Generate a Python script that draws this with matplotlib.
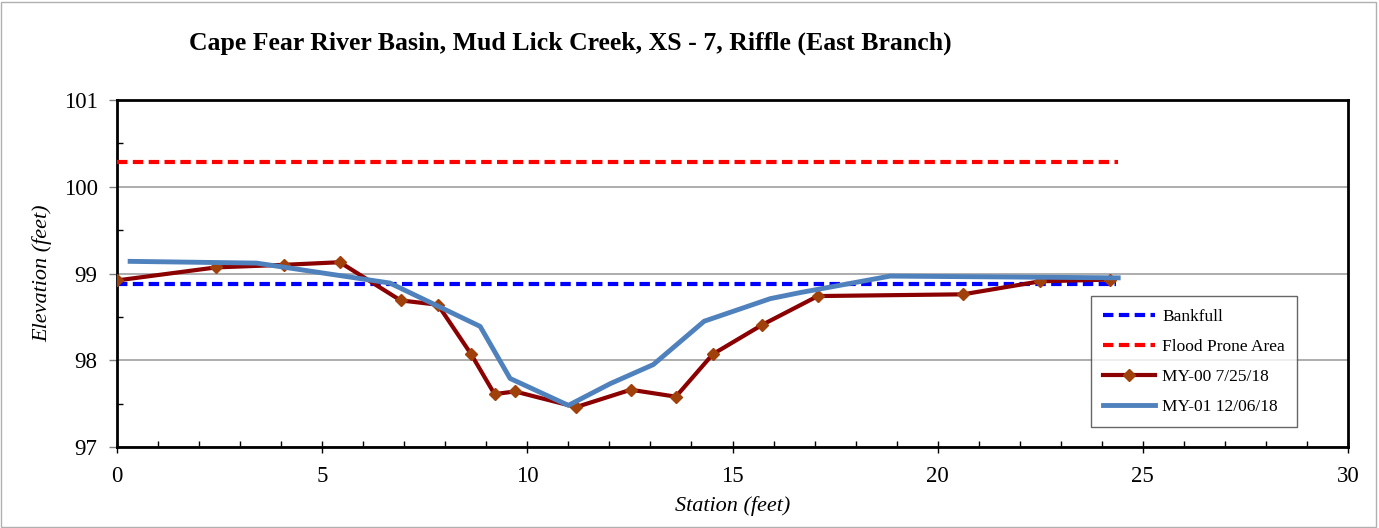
import matplotlib
matplotlib.use("Agg")
import matplotlib.pyplot as plt
from matplotlib.ticker import MultipleLocator

plt.rcParams['font.family'] = ['Liberation Serif', 'DejaVu Serif']

title = "Cape Fear River Basin, Mud Lick Creek, XS - 7, Riffle (East Branch)"

bankfull_x = [0.0, 24.35]
bankfull_y = [98.88, 98.88]
flood_x = [0.0, 24.4]
flood_y = [100.28, 100.28]

my00_x = [0.0, 2.41, 4.07, 5.43, 6.91, 7.82, 8.63, 9.20, 9.70, 11.19, 12.52, 13.62, 14.52, 15.73, 17.08, 20.62, 22.50, 24.20]
my00_y = [98.92, 99.07, 99.10, 99.13, 98.69, 98.64, 98.07, 97.61, 97.64, 97.46, 97.66, 97.58, 98.07, 98.41, 98.74, 98.76, 98.91, 98.93]

my01_x = [0.32, 3.40, 6.65, 8.85, 9.58, 11.00, 12.02, 13.07, 14.31, 15.92, 16.65, 18.84, 24.40]
my01_y = [99.14, 99.12, 98.89, 98.39, 97.79, 97.48, 97.73, 97.95, 98.45, 98.71, 98.78, 98.97, 98.95]

fig = plt.figure(figsize=(13.79, 5.28), dpi=100)
ax = fig.add_axes([117/1379, 1 - 447/528, (1348-117)/1379, (447-100)/528])

ax.plot(bankfull_x, bankfull_y, color='#0000FF', lw=3, ls=(0, (2.5, 1.3)), label='Bankfull', zorder=3)
ax.plot(flood_x, flood_y, color='#FF0000', lw=3, ls=(0, (2.5, 1.3)), label='Flood Prone Area', zorder=3)
ax.plot(my00_x, my00_y, color='#8B0000', lw=3, marker='D', ms=6, mfc='#A0400A', mec='#A0400A',
        label='MY-00 7/25/18', zorder=4)
ax.plot(my01_x, my01_y, color='#4F81BD', lw=3.5, label='MY-01 12/06/18', zorder=5)

ax.set_xlim(0, 30)
ax.set_ylim(97, 101)
ax.xaxis.set_major_locator(MultipleLocator(5))
ax.xaxis.set_minor_locator(MultipleLocator(1))
ax.yaxis.set_major_locator(MultipleLocator(1))
ax.yaxis.set_minor_locator(MultipleLocator(0.5))
ax.grid(axis='y', which='major', color='#A0A0A0', lw=1.2)
ax.set_axisbelow(True)
for s in ax.spines.values():
    s.set_linewidth(2)
    s.set_color('black')
ax.tick_params(axis='x', which='major', direction='inout', length=8, width=1, labelsize=16.5, pad=10)
ax.tick_params(axis='x', which='minor', direction='in', length=4, width=1)
ax.tick_params(axis='y', which='major', direction='out', length=6, width=1, labelsize=16.5, color='#808080', pad=8)
ax.tick_params(axis='y', which='minor', direction='in', length=4, width=1)

ax.set_xlabel('Station (feet)', fontsize=16, style='italic', labelpad=6)
ax.set_ylabel('Elevation (feet)', fontsize=16, style='italic', labelpad=8)

fig.text(570/1379, 1 - 43/528, title, fontsize=18.5, fontweight='bold', ha='center', va='center')

leg = ax.legend(loc='lower right', bbox_to_anchor=((1297-117)/1231, (447-427)/347), fontsize=12.5,
                frameon=True, fancybox=False, edgecolor='#404040', handlelength=3.0,
                labelspacing=0.8, borderpad=0.7, handletextpad=0.4, borderaxespad=0)
leg.get_frame().set_linewidth(1)

fig.patches.append(plt.Rectangle((0.001, 0.002), 0.997, 0.995, transform=fig.transFigure,
                                 fill=False, edgecolor='#B0B0B0', lw=1))

fig.savefig('out.png', dpi=100)
